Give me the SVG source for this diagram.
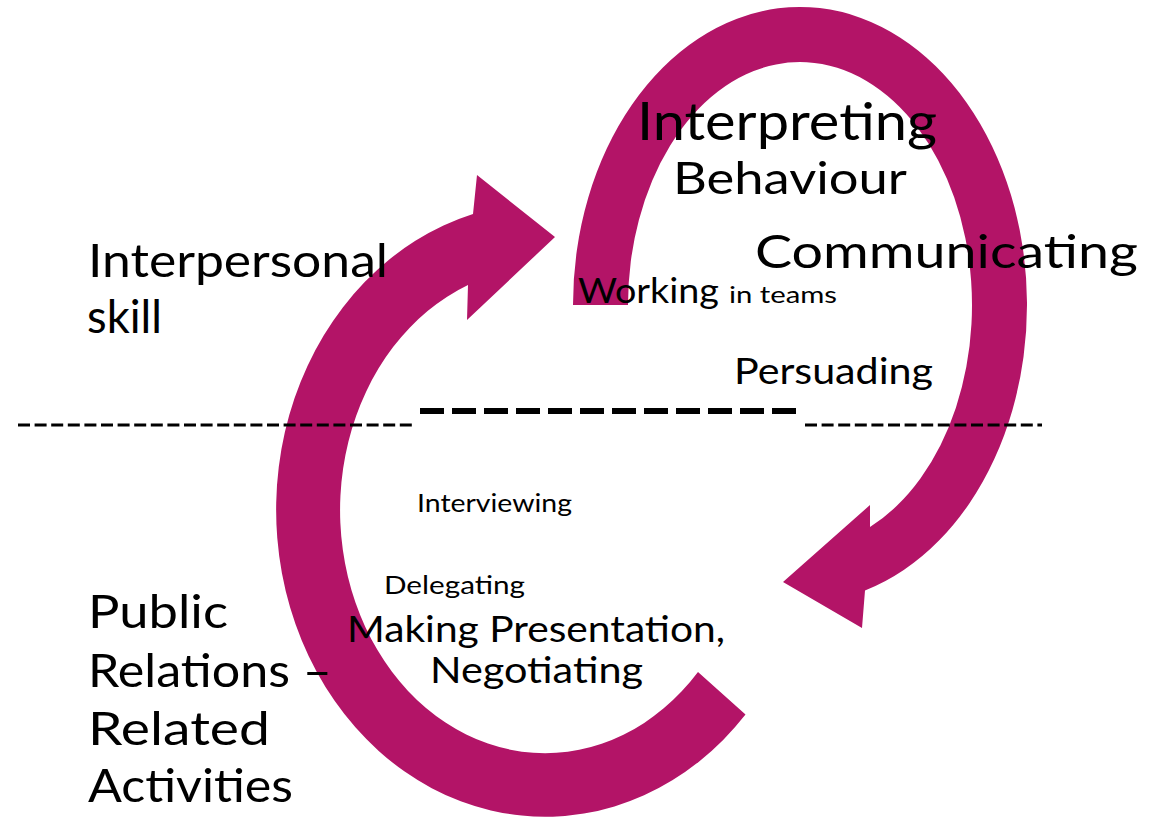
<svg xmlns="http://www.w3.org/2000/svg" width="1168" height="817" viewBox="0 0 1168 817">
<style>
.arrow{fill:#B31467;stroke:none}
text{font-family:"Lato","DejaVu Sans","Liberation Sans",sans-serif;font-weight:400;fill:#000}
.thin{stroke:#000;stroke-width:3;stroke-dasharray:12 4.6;fill:none}
.thick{stroke:#000;stroke-width:6;stroke-dasharray:24 8;fill:none}
</style>
<rect width="1168" height="817" fill="#fff"/>
<g id="arrows">
  <path id="arrow-top" class="arrow" d="M573 305 A227 298 0 1 1 865 590.5 L862 628 L783 582 L870 505 L870 527 A172 243 0 1 0 628 305 Z"/>
  <path id="arrow-left" class="arrow" d="M745.5 714.6 L698 672 A205 243 0 1 1 468 285 L467 320 L555 237 L477 175 L473 214 A269 307 0 1 0 745.5 714.6 Z"/>
</g>
<g id="dividers">
  <line class="thin" x1="18" y1="425" x2="416" y2="425"/>
  <line class="thick" x1="420" y1="411" x2="800" y2="411"/>
  <line class="thin" x1="805" y1="425" x2="1042" y2="425"/>
</g>
<g id="labels">
  <text x="637" y="140" font-size="53" textLength="300" lengthAdjust="spacingAndGlyphs">Interpreting</text>
  <text x="673" y="194" font-size="45" textLength="234" lengthAdjust="spacingAndGlyphs">Behaviour</text>
  <text x="755" y="268" font-size="46" textLength="383" lengthAdjust="spacingAndGlyphs">Communicating</text>
  <text x="578" y="303" font-size="35" textLength="141" lengthAdjust="spacingAndGlyphs">Working</text>
  <text x="729" y="303" font-size="24" textLength="108" lengthAdjust="spacingAndGlyphs">in teams</text>
  <text x="734" y="384" font-size="37" textLength="199" lengthAdjust="spacingAndGlyphs">Persuading</text>
  <text x="88" y="277" font-size="47" textLength="300" lengthAdjust="spacingAndGlyphs">Interpersonal</text>
  <text x="87" y="333" font-size="47" textLength="75" lengthAdjust="spacingAndGlyphs">skill</text>
  <text x="88" y="628" font-size="46" textLength="140" lengthAdjust="spacingAndGlyphs">Public</text>
  <text x="88" y="687" font-size="46" textLength="244" lengthAdjust="spacingAndGlyphs">Relations –</text>
  <text x="88" y="745" font-size="46" textLength="182" lengthAdjust="spacingAndGlyphs">Related</text>
  <text x="88" y="802" font-size="46" textLength="205" lengthAdjust="spacingAndGlyphs">Activities</text>
  <text x="417" y="512" font-size="25" textLength="155" lengthAdjust="spacingAndGlyphs">Interviewing</text>
  <text x="384" y="594" font-size="25" textLength="141" lengthAdjust="spacingAndGlyphs">Delegating</text>
  <text x="347" y="642" font-size="36" textLength="378" lengthAdjust="spacingAndGlyphs">Making Presentation,</text>
  <text x="430" y="683" font-size="36" textLength="213" lengthAdjust="spacingAndGlyphs">Negotiating</text>
</g>
</svg>
